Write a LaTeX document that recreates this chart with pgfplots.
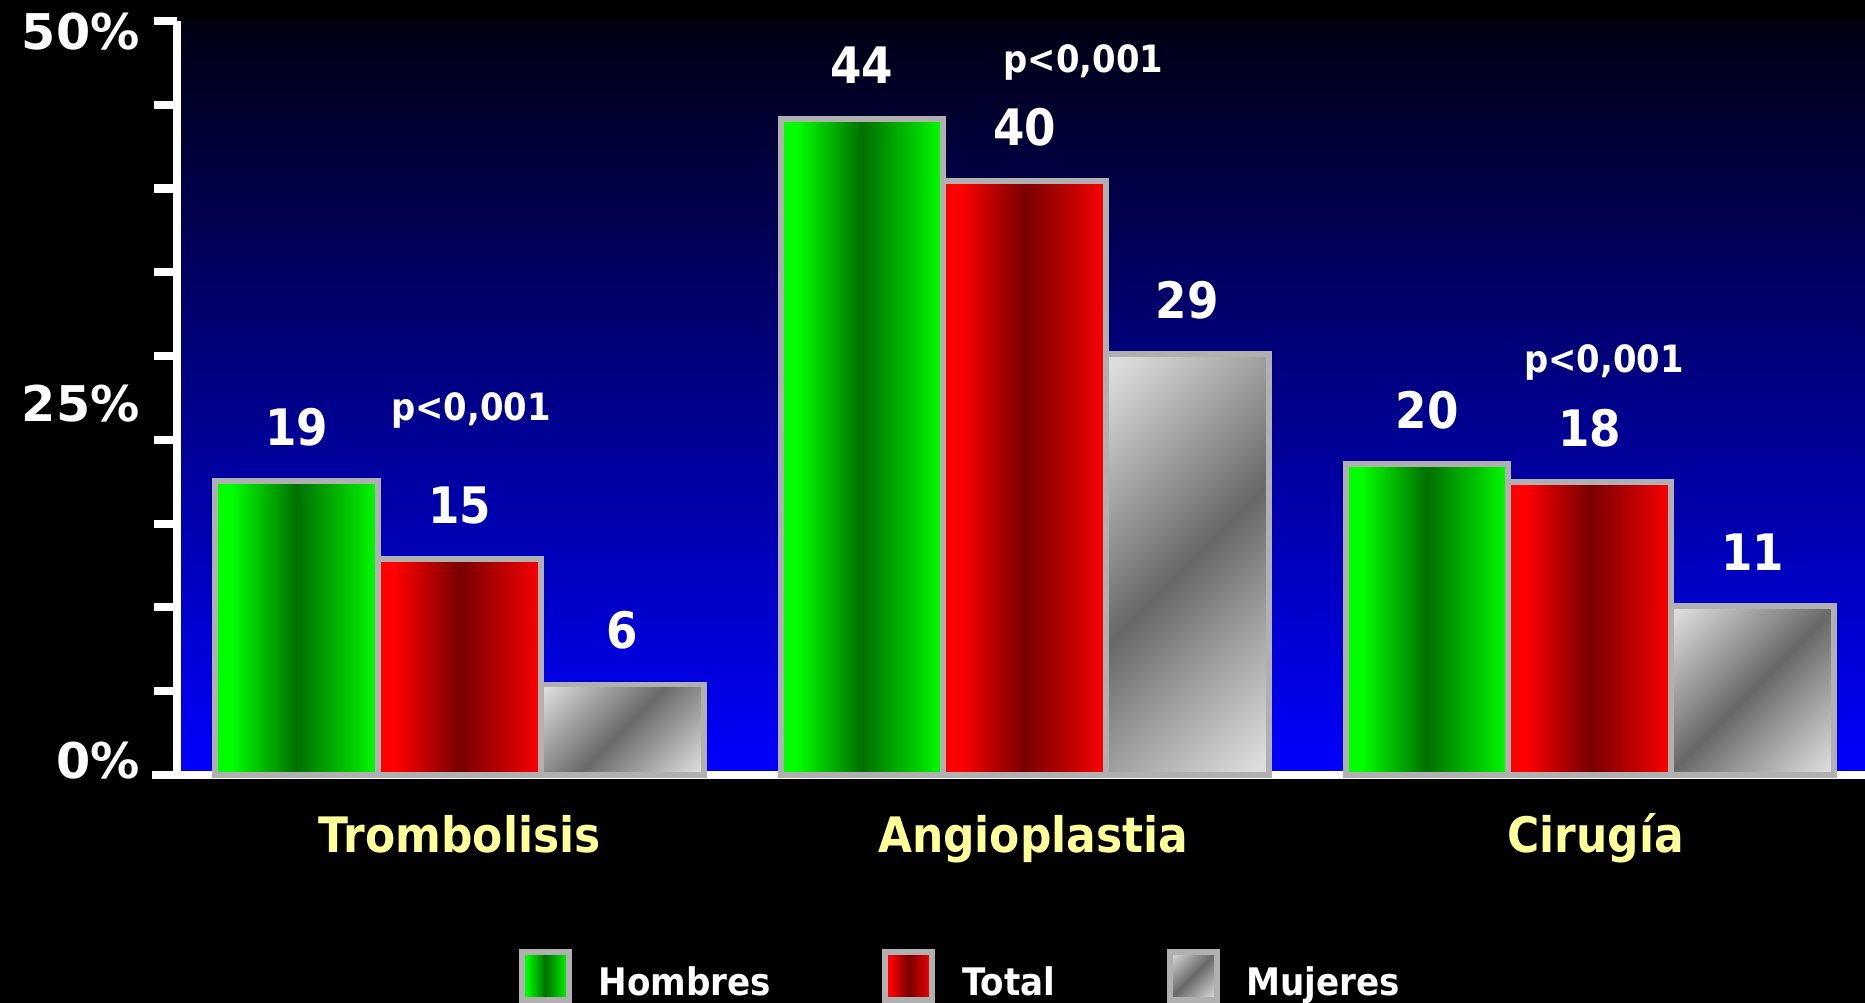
\documentclass[border=0pt]{standalone}
\usepackage{pgfplots}
\pgfplotsset{compat=1.18}
\usepackage{fontspec}
\newfontfamily\tah{DejaVu Sans}[FakeStretch=0.9]
\newfontfamily\verd{DejaVu Sans}
\definecolor{gbright}{RGB}{0,255,0}
\definecolor{gdark}{RGB}{0,112,0}
\definecolor{gmidg}{RGB}{0,200,0}
\definecolor{rbright}{RGB}{255,0,0}
\definecolor{rdark}{RGB}{120,0,0}
\definecolor{rmidr}{RGB}{200,0,0}
\definecolor{glight}{RGB}{220,220,220}
\definecolor{gmid}{RGB}{104,104,104}
\definecolor{barborder}{RGB}{176,176,176}
\definecolor{topnavy}{RGB}{0,0,18}
\definecolor{catyellow}{RGB}{255,255,153}
\pgfdeclarehorizontalshading{greenbar}{100bp}{color(0bp)=(gbright); color(25bp)=(gbright); color(30bp)=(gbright); color(50bp)=(gdark); color(66bp)=(gmidg); color(75bp)=(gbright); color(100bp)=(gbright)}
\pgfdeclarehorizontalshading{redbar}{100bp}{color(0bp)=(rbright); color(25bp)=(rbright); color(30bp)=(rbright); color(50bp)=(rdark); color(66bp)=(rmidr); color(75bp)=(rbright); color(100bp)=(rbright)}
\pgfdeclarehorizontalshading{graybar}{100bp}{color(0bp)=(glight); color(17bp)=(glight); color(50bp)=(gmid); color(83bp)=(glight); color(100bp)=(glight)}
\pgfplotsset{
  barbase/.style={ybar, bar width=0.288, bar shift=0pt, draw=barborder, line width=1.7pt},
  hb/.style={barbase, shading=greenbar,
    legend image code/.code={\draw[shading=greenbar, draw=barborder, line width=1.7pt] (0.3mm,-1.6mm) rectangle (5.0mm,3.2mm);}},
  tb/.style={barbase, shading=redbar,
    legend image code/.code={\draw[shading=redbar, draw=barborder, line width=1.7pt] (0.3mm,-1.6mm) rectangle (5.0mm,3.2mm);}},
  mb/.style={barbase, shading=graybar, shading angle=-45,
    legend image code/.code={\draw[shading=graybar, shading angle=-45, draw=barborder, line width=1.7pt] (0.3mm,-1.6mm) rectangle (5.0mm,3.2mm);}},
}
\begin{document}
\begin{tikzpicture}
\fill[black] (0,0) rectangle (18.65,10.03);
\begin{axis}[
  at={(1.77cm,2.28cm)}, anchor=south west,
  scale only axis, width=16.88cm, height=7.54cm,
  xmin=-0.5, xmax=2.487, ymin=0, ymax=50,
  clip=false,
  axis x line*=bottom, axis y line*=left,
  axis line style={white, line width=2.5pt},
  x axis line style={shorten <=-2.5mm},
  axis background/.style={top color=topnavy, bottom color=blue},
  xtick={0,1.015,2.01}, xticklabels={Trombolisis,Angioplastia,Cirugía},
  x tick style={draw=none},
  x tick label style={font=\tah\bfseries\fontsize{13.9}{16}\selectfont, text=catyellow, anchor=base, yshift=-5.45mm},
  ytick={0,5.5556,11.1111,16.6667,22.2222,27.7778,33.3333,38.8889,44.4444,50},
  yticklabels={},
  y tick style={white, line width=2.3pt},
  tick align=outside, major tick length=2.3mm,
  extra y ticks={0.93,24.6,49.3},
  extra y tick labels={0\%,25\%,50\%},
  extra y tick style={major tick length=0pt, tick style={draw=none}},
  y tick label style={font=\verd\bfseries\fontsize{14}{16}\selectfont, text=white, anchor=east, xshift=-2.5mm},
  point meta=explicit symbolic,
  nodes near coords,
  every node near coord/.append style={font=\tah\bfseries\fontsize{14.3}{16}\selectfont, text=white, anchor=center, yshift=5.4mm},
  legend columns=3,
  legend style={at={(axis description cs:0.202,-0.2294)}, anchor=north west, draw=none, fill=none, inner sep=0pt, text=white,
    font=\tah\bfseries\fontsize{10.8}{12}\selectfont,
    /tikz/every odd column/.append style={column sep=2.0mm},
    /tikz/every even column/.append style={column sep=10.4mm}},
]
% Trombolisis
\addplot[hb] coordinates {(-0.288,19.5) [19]};
\addplot[tb] coordinates {(0,14.3) [15]};
\addplot[mb] coordinates {(0.288,6.0) [6]};
\legend{Hombres,Total,Mujeres}
% Angioplastia
\addplot[hb, forget plot] coordinates {(0.712,43.5) [44]};
\addplot[tb, forget plot] coordinates {(1,39.4) [40]};
\addplot[mb, forget plot] coordinates {(1.288,27.9) [29]};
% Cirugia
\addplot[hb, forget plot] coordinates {(1.712,20.6) [20]};
\addplot[tb, forget plot] coordinates {(2,19.4) [18]};
\addplot[mb, forget plot] coordinates {(2.288,11.2) [11]};
\node[font=\tah\bfseries\fontsize{10.7}{12}\selectfont, text=white, anchor=base] at (axis cs:0.02,23.5) {p<0,001};
\node[font=\tah\bfseries\fontsize{10.7}{12}\selectfont, text=white, anchor=base] at (axis cs:1.104,46.6) {p<0,001};
\node[font=\tah\bfseries\fontsize{10.7}{12}\selectfont, text=white, anchor=base] at (axis cs:2.025,26.7) {p<0,001};
\end{axis}
\pgfresetboundingbox
\useasboundingbox (0,0) rectangle (18.65,10.03);
\end{tikzpicture}
\end{document}
